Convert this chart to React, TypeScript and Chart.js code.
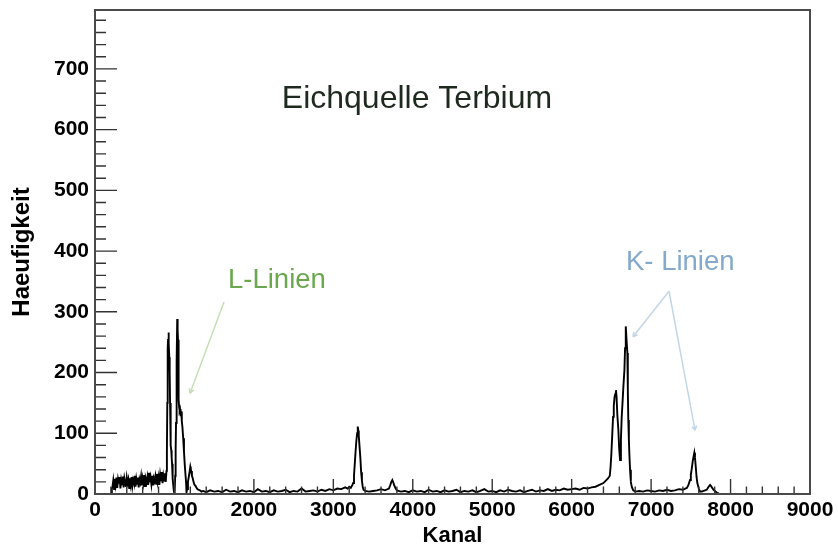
import React, { useEffect, useRef } from "react";
import { Chart, registerables } from "chart.js";

Chart.register(...registerables);

// ---- data: [Kanal, Haeufigkeit] ----
const lowNoise: [number, number][] = [
  [0, 0], [205, 0], [212, 9], [220, 12], [230, 22], [240, 8], [250, 25], [260, 15], [270, 27], [280, 10],
  [290, 24], [300, 17], [310, 28], [320, 9], [330, 23], [340, 16], [350, 29], [360, 11], [370, 26], [380, 19],
  [390, 12], [400, 27], [410, 18], [420, 24], [430, 10], [440, 26], [450, 16], [460, 28], [470, 13], [480, 23],
  [490, 18], [500, 30], [510, 12], [520, 25], [530, 17], [540, 27], [550, 11], [560, 24], [570, 19], [580, 29],
  [590, 14], [600, 26], [610, 18], [620, 31], [630, 13], [640, 25], [650, 20], [660, 28], [670, 15], [680, 35],
  [690, 19], [700, 27], [710, 16], [720, 30], [730, 14], [740, 26], [750, 21], [760, 29], [770, 17], [780, 33],
  [790, 20], [800, 28], [810, 15], [820, 31], [830, 21], [840, 36], [850, 18], [860, 30], [870, 22], [880, 34],
  [890, 20], [900, 38],
];

const lPeaks: [number, number][] = [
  [905, 70], [910, 150], [915, 240], [920, 255], [925, 266], [930, 248], [935, 225], [940, 200], [945, 150], [950, 100],
  [955, 80], [960, 72], [965, 60], [970, 50], [975, 40], [980, 25], [985, 15], [990, 8], [995, 3], [1000, 2],
  [1005, 4], [1010, 30], [1015, 72], [1020, 117], [1025, 210], [1030, 216], [1035, 288], [1040, 270], [1045, 254], [1050, 190],
  [1055, 155], [1060, 142], [1065, 138], [1070, 140], [1075, 132], [1080, 128], [1085, 136], [1090, 133], [1095, 120], [1100, 111],
  [1110, 92], [1120, 70], [1130, 48], [1140, 30], [1146, 20], [1152, 3], [1160, 8], [1170, 20], [1180, 28], [1190, 36],
  [1200, 45], [1205, 42], [1210, 38], [1220, 30], [1230, 26], [1240, 20], [1250, 16], [1260, 14], [1270, 12], [1280, 10],
  [1290, 8], [1300, 7], [1320, 6], [1340, 4],
];

const midBaseline: [number, number][] = [
  [1360, 5], [1400, 3], [1450, 6], [1500, 4], [1550, 5], [1600, 3], [1650, 7], [1700, 4], [1750, 5], [1800, 3],
  [1850, 6], [1900, 4], [1950, 5], [2000, 3], [2050, 8], [2100, 4], [2150, 5], [2200, 3], [2250, 6], [2300, 4],
  [2350, 5], [2400, 7], [2450, 3], [2500, 5], [2550, 4], [2600, 9], [2650, 4], [2700, 5], [2750, 6], [2800, 4],
  [2850, 7], [2900, 5], [2950, 8], [3000, 6], [3050, 9], [3100, 8], [3150, 11], [3180, 9], [3200, 12], [3220, 10],
  [3240, 15],
];

const peak3300: [number, number][] = [
  [3250, 18], [3260, 30], [3270, 50], [3280, 70], [3290, 88], [3300, 100], [3305, 106], [3310, 111], [3315, 104], [3320, 96],
  [3330, 78], [3340, 60], [3350, 36], [3360, 22], [3370, 12], [3380, 7], [3400, 5], [3450, 4], [3500, 5], [3550, 6],
  [3600, 8], [3650, 6], [3700, 9], [3715, 14], [3730, 20], [3743, 23], [3755, 19], [3765, 15], [3780, 10], [3800, 6],
  [3850, 4],
];

const highBaseline: [number, number][] = [
  [3900, 5], [3950, 3], [4000, 6], [4050, 4], [4100, 5], [4150, 3], [4200, 7], [4250, 4], [4300, 5], [4350, 3],
  [4400, 6], [4450, 4], [4500, 5], [4550, 7], [4600, 3], [4650, 5], [4700, 4], [4750, 6], [4800, 3], [4850, 5],
  [4900, 8], [4950, 4], [5000, 5], [5050, 3], [5100, 6], [5150, 4], [5200, 7], [5250, 5], [5300, 4], [5350, 6],
  [5400, 3], [5450, 5], [5500, 7], [5550, 4], [5600, 6], [5650, 5], [5700, 8], [5750, 5], [5800, 7], [5850, 6],
  [5900, 9], [5950, 7], [6000, 8], [6050, 9], [6100, 7], [6150, 10], [6200, 9],
];

const kPeaks: [number, number][] = [
  [6250, 11], [6300, 12], [6350, 15], [6400, 18], [6430, 22], [6460, 26], [6480, 30], [6490, 45], [6500, 67], [6510, 95],
  [6521, 127], [6530, 145], [6540, 160], [6550, 165], [6558, 171], [6565, 160], [6575, 130], [6588, 105], [6598, 75], [6609, 56],
  [6620, 90], [6630, 127], [6640, 150], [6651, 177], [6664, 204], [6672, 240], [6681, 276], [6690, 255], [6701, 232], [6707, 170],
  [6713, 122], [6720, 90], [6726, 67], [6735, 40], [6745, 20], [6756, 12], [6775, 6], [6800, 4],
];

const kBeta: [number, number][] = [
  [6850, 5], [6900, 4], [6950, 6], [7000, 5], [7050, 4], [7100, 6], [7150, 5], [7200, 7], [7250, 5], [7300, 6],
  [7350, 8], [7400, 7], [7430, 9], [7450, 10], [7470, 15], [7490, 23], [7500, 32], [7510, 40], [7525, 55], [7535, 62],
  [7544, 68], [7552, 60], [7565, 40], [7572, 28], [7582, 18], [7600, 9], [7616, 4], [7640, 4], [7660, 5], [7680, 6],
  [7700, 7], [7720, 11], [7735, 14], [7742, 15], [7755, 13], [7770, 10], [7784, 7], [7810, 4], [7830, 2], [7847, 1],
  [7860, 0], [9000, 0],
];

const xTickValues = [0, 1000, 2000, 3000, 4000, 5000, 6000, 7000, 8000, 9000];
const yTickValues = [0, 100, 200, 300, 400, 500, 600, 700];
const xMax = 9000;
const yMax = 797;

const chartTitle = "Eichquelle Terbium";
const xTitle = "Kanal";
const yTitle = "Haeufigkeit";
const lLabel = "L-Linien";
const kLabel = "K- Linien";

// annotation anchors in data coordinates
const titleAnchor = { x: 4053, y: 650 };
const lTextAnchor = { x: 1674, y: 351 };
const lArrow = { from: { x: 1624, y: 316 }, to: [{ x: 1196, y: 166 }] };
const kTextAnchor = { x: 6684, y: 382 };
const kArrow = { from: { x: 7225, y: 334 }, to: [{ x: 6772, y: 259 }, { x: 7553, y: 105 }] };

const FONT = "'Liberation Sans', Arial, Helvetica, sans-serif";

const rootStylePlugin = {
  id: "rootStyle",
  afterDraw(chart: any) {
    const { ctx, chartArea: a, scales } = chart;
    const xs = scales.x;
    const ys = scales.y;
    ctx.save();

    // inward tick marks
    ctx.strokeStyle = "#333";
    ctx.lineWidth = 1.4;
    ctx.beginPath();
    for (let v = 0; v <= xMax; v += 200) {
      const px = xs.getPixelForValue(v);
      const len = v % 1000 === 0 ? 15 : 7.5;
      ctx.moveTo(px, a.bottom);
      ctx.lineTo(px, a.bottom - len);
    }
    for (let v = 0; v <= yMax; v += 20) {
      const py = ys.getPixelForValue(v);
      const len = v % 100 === 0 ? 22 : 11;
      ctx.moveTo(a.left, py);
      ctx.lineTo(a.left + len, py);
    }
    ctx.stroke();

    // frame
    ctx.strokeStyle = "#4a4a4a";
    ctx.lineWidth = 2;
    ctx.strokeRect(a.left, a.top, a.right - a.left, a.bottom - a.top);

    // title
    ctx.fillStyle = "#1f2a1f";
    ctx.font = `32px ${FONT}`;
    ctx.textAlign = "center";
    ctx.textBaseline = "middle";
    ctx.fillText(chartTitle, xs.getPixelForValue(titleAnchor.x), ys.getPixelForValue(titleAnchor.y));

    // labels
    ctx.textAlign = "left";
    ctx.font = `27.5px ${FONT}`;
    ctx.fillStyle = "#6aa84f";
    ctx.fillText(lLabel, xs.getPixelForValue(lTextAnchor.x), ys.getPixelForValue(lTextAnchor.y));
    ctx.fillStyle = "#84a9cc";
    ctx.fillText(kLabel, xs.getPixelForValue(kTextAnchor.x), ys.getPixelForValue(kTextAnchor.y));

    const drawArrow = (arrow: any, color: string) => {
      ctx.strokeStyle = color;
      ctx.lineWidth = 1.5;
      const fx = xs.getPixelForValue(arrow.from.x);
      const fy = ys.getPixelForValue(arrow.from.y);
      for (const t of arrow.to) {
        const tx = xs.getPixelForValue(t.x);
        const ty = ys.getPixelForValue(t.y);
        ctx.beginPath();
        ctx.moveTo(fx, fy);
        ctx.lineTo(tx, ty);
        ctx.stroke();
        const ang = Math.atan2(ty - fy, tx - fx);
        ctx.beginPath();
        ctx.moveTo(tx, ty);
        ctx.lineTo(tx - 5 * Math.cos(ang - 0.5), ty - 5 * Math.sin(ang - 0.5));
        ctx.moveTo(tx, ty);
        ctx.lineTo(tx - 5 * Math.cos(ang + 0.5), ty - 5 * Math.sin(ang + 0.5));
        ctx.stroke();
      }
    };
    drawArrow(lArrow, "#c4dfb3");
    drawArrow(kArrow, "#c2d6e8");

    ctx.restore();
  },
};

export default function App() {
  const canvasRef = useRef<HTMLCanvasElement | null>(null);

  useEffect(() => {
    if (!canvasRef.current) return;
    const spectrum = [
      ...lowNoise, ...lPeaks, ...midBaseline, ...peak3300, ...highBaseline, ...kPeaks, ...kBeta,
    ].map(([x, y]) => ({ x, y }));

    const chart = new Chart(canvasRef.current, {
      type: "line",
      data: {
        datasets: [
          {
            label: "Spektrum",
            data: spectrum,
            borderColor: "#000",
            borderWidth: 1.9,
            pointRadius: 0,
            tension: 0,
            fill: false,
          },
        ],
      },
      options: {
        animation: false,
        responsive: false,
        maintainAspectRatio: false,
        devicePixelRatio: 1,
        layout: { padding: { top: 10, right: 28, left: 0, bottom: 0 } },
        plugins: { legend: { display: false }, tooltip: { enabled: false } },
        scales: {
          x: {
            type: "linear",
            min: 0,
            max: xMax,
            grid: { display: false, drawTicks: false },
            border: { display: false },
            afterBuildTicks: (s: any) => {
              s.ticks = xTickValues.map((v) => ({ value: v }));
            },
            afterFit: (s: any) => {
              s.height = 56;
              s.paddingLeft = 0;
              s.paddingRight = 0;
            },
            ticks: {
              color: "#000",
              font: { family: FONT, size: 21, weight: "bold" },
              padding: 4,
              maxRotation: 0,
              autoSkip: false,
              callback: (v: any) => String(v),
            },
            title: {
              display: true,
              text: xTitle,
              color: "#000",
              font: { family: FONT, size: 22, weight: "bold" },
              padding: { top: 0, bottom: 1 },
            },
          },
          y: {
            type: "linear",
            min: 0,
            max: yMax,
            grid: { display: false, drawTicks: false },
            border: { display: false },
            afterBuildTicks: (s: any) => {
              s.ticks = yTickValues.map((v) => ({ value: v }));
            },
            afterFit: (s: any) => {
              s.width = 95;
              s.paddingTop = 0;
              s.paddingBottom = 0;
            },
            ticks: {
              color: "#000",
              font: { family: FONT, size: 21, weight: "bold" },
              padding: 6,
              callback: (v: any) => String(v),
            },
            title: {
              display: true,
              text: yTitle,
              color: "#000",
              font: { family: FONT, size: 24, weight: "bold" },
              padding: { top: 8, bottom: 0 },
            },
          },
        },
      },
      plugins: [rootStylePlugin],
    });
    return () => chart.destroy();
  }, []);

  return (
    <div style={{ position: "fixed", left: 0, top: 0, width: 838, height: 550, background: "#fff" }}>
      <canvas ref={canvasRef} width={838} height={550} style={{ display: "block" }} />
    </div>
  );
}
